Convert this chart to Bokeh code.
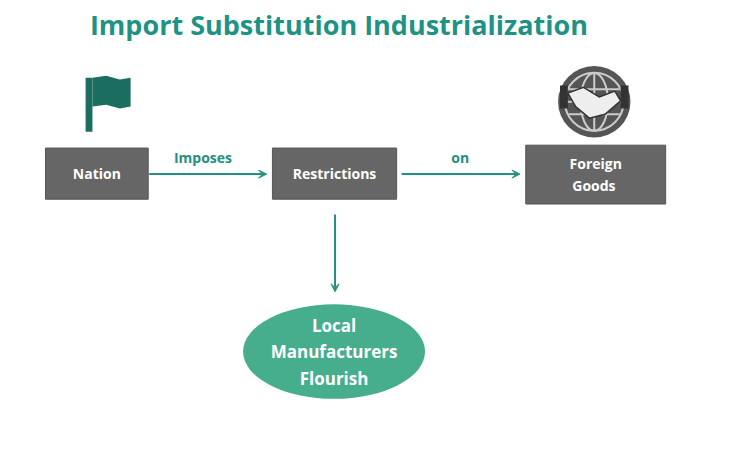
from bokeh.plotting import figure
from bokeh.models import Range1d, Arrow, VeeHead
from bokeh.core.properties import value
from bokeh.embed import file_html
from bokeh.resources import INLINE
import numpy as np

title = "Import Substitution Industrialization"
box_labels = ["Nation", "Restrictions", "Foreign\n Goods"]
edge_labels = ["Imposes", "on"]
ellipse_label = "Local\nManufacturers\nFlourish"

TEAL = "#238f7e"
TITLE = "#1f9383"
GRAY = "#666666"
F = value("Open Sans")

p = figure(width=717, height=435, x_range=Range1d(0, 733), y_range=Range1d(451, 0),
           output_backend="svg", toolbar_location=None, min_border=0)
p.axis.visible = False
p.grid.visible = False
p.outline_line_color = None
p.background_fill_color = "white"

p.text([346], [25], text=[title], text_font=F, text_font_style="bold", text_font_size="27px",
       text_color=TITLE, text_align="center", text_baseline="middle")

bx = [98.5, 341.5, 608.5]; by = [179.5, 179.5, 180.5]
bw = [105, 127, 143]; bh = [53, 53, 61]
p.rect(bx, by, bw, bh, fill_color=GRAY, line_color="#555555")
p.text(bx, by, text=box_labels, text_font=F, text_font_style="bold", text_font_size="14px",
       text_color="white", text_align="center", text_baseline="middle", text_line_height=1.15)

for x0, x1 in [(152, 272), (410, 531)]:
    p.add_layout(Arrow(end=VeeHead(size=8, line_color=TEAL, fill_color=TEAL), x_start=x0, y_start=180,
                       x_end=x1, y_end=180, line_color=TEAL, line_width=2))
p.add_layout(Arrow(end=VeeHead(size=8, line_color=TEAL, fill_color=TEAL), x_start=342, y_start=222,
                   x_end=342, y_end=302, line_color=TEAL, line_width=2))
p.text([207, 470], [163, 163], text=edge_labels, text_font=F, text_font_style="bold",
       text_font_size="14px", text_color=TEAL, text_align="center", text_baseline="middle")

p.ellipse([341], [364], width=186, height=98, fill_color="#46ae8d", line_color=None)
p.text([341], [364], text=[ellipse_label], text_font=F, text_font_style="bold", text_font_size="17px",
       text_color="white", text_align="center", text_baseline="middle", text_line_height=1.15)

# flag icon
p.quad(left=[87], right=[94], top=[80], bottom=[136], fill_color="#1b6e5f", line_color=None)
p.patch([94, 108, 122, 133, 133, 122, 108, 94], [80, 78, 82, 80, 110, 112, 108, 110],
        fill_color="#1b6e5f", line_color=None)

# globe icon
p.ellipse([607], [105], width=74, height=74, fill_color="#555555", line_color=None)
p.ellipse([607], [105], width=60, height=60, fill_color=None, line_color="#cccccc", line_width=2)
p.ellipse([607], [105], width=28, height=60, fill_color=None, line_color="#cccccc", line_width=2)
p.segment([577, 607, 581, 581], [105, 75, 92, 118], [637, 607, 633, 633], [105, 135, 92, 118],
          line_color="#cccccc", line_width=2)
p.quad(left=[572, 634], right=[580, 642], top=[88, 88], bottom=[112, 112], fill_color="#333333", line_color=None)
p.patch([580, 596, 612, 628, 634, 618, 602, 588], [96, 90, 100, 94, 104, 118, 122, 110],
        fill_color="#eeeeee", line_color="#333333", line_width=1.5)

open("out.html", "w").write(file_html(p, INLINE))
